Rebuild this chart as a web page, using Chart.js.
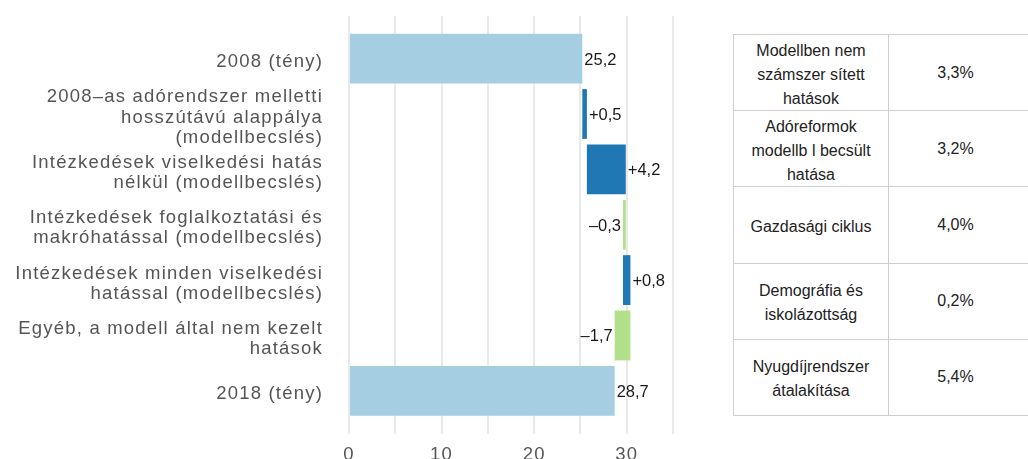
<!DOCTYPE html>
<html><head><meta charset="utf-8">
<script src="https://cdn.jsdelivr.net/npm/chart.js@4.4.1/dist/chart.umd.min.js"></script>
<style>
html,body{margin:0;padding:0;width:1028px;height:459px;overflow:hidden;background:#fff;font-family:'Liberation Sans',Arial,sans-serif;}
#wrap{position:absolute;left:0;top:0;width:690px;height:466px;}
#tbl{position:absolute;left:733px;top:34px;width:320px;border-collapse:collapse;table-layout:fixed;font-size:16px;line-height:24px;color:#222;}
#tbl td{border:1.5px solid #cfcfcf;text-align:center;vertical-align:middle;padding:0;height:75.2px;}
#tbl td.lab span{position:relative;top:2px;}
#tbl td.val{padding-right:31px;}
</style></head>
<body>
<div id="wrap"><canvas id="c"></canvas></div>
<table id="tbl"><colgroup><col style="width:155px"><col style="width:165px"></colgroup><tbody id="tb"></tbody></table>
<script>
const categories = [
  ['2008 (tény)'],
  ['2008–as adórendszer melletti', 'hosszútávú alappálya', '(modellbecslés)'],
  ['Intézkedések viselkedési hatás', 'nélkül (modellbecslés)'],
  ['Intézkedések foglalkoztatási és', 'makróhatással (modellbecslés)'],
  ['Intézkedések minden viselkedési', 'hatással (modellbecslés)'],
  ['Egyéb, a modell által nem kezelt', 'hatások'],
  ['2018 (tény)']
];
const barValues = [25.2, 0.5, 4.2, -0.3, 0.8, -1.7, 28.7];
const barKinds = ['total', 'change', 'change', 'change', 'change', 'change', 'total'];
const xTickLabels = [0, 10, 20, 30];
const tableLabels = [
  ['Modellben nem', 'számszer sített', 'hatások'],
  ['Adóreformok', 'modellb l becsült', 'hatása'],
  ['Gazdasági ciklus'],
  ['Demográfia és', 'iskolázottság'],
  ['Nyugdíjrendszer', 'átalakítása']
];
const tableValues = [3.3, 3.2, 4.0, 0.2, 5.4];

const FAMILY = "'Liberation Sans', Arial, sans-serif";
const COLORS = {total: '#a6cee3', pos: '#1f78b4', neg: '#b2df8a'};
const fmt = v => v.toFixed(1).replace('.', ',');

// table
const tb = document.getElementById('tb');
tableLabels.forEach((lines, i) => {
  const tr = document.createElement('tr');
  const a = document.createElement('td'); a.className = 'lab';
  const sp = document.createElement('span');
  lines.forEach((l, j) => { if (j) sp.appendChild(document.createElement('br')); sp.appendChild(document.createTextNode(l)); });
  a.appendChild(sp);
  const b = document.createElement('td'); b.className = 'val';
  b.textContent = fmt(tableValues[i]) + '%';
  tr.appendChild(a); tr.appendChild(b); tb.appendChild(tr);
});

// waterfall ranges
let running = 0;
const ranges = barValues.map((v, i) => {
  if (barKinds[i] === 'total') { running = v; return [0, v]; }
  const r = [running, running + v]; running += v; return r;
});
const colors = barValues.map((v, i) => barKinds[i] === 'total' ? COLORS.total : (v >= 0 ? COLORS.pos : COLORS.neg));

const labelPlugin = {
  id: 'barLabels',
  afterDatasetsDraw(chart) {
    const ctx = chart.ctx;
    const meta = chart.getDatasetMeta(0);
    ctx.save();
    try { ctx.letterSpacing = '0px'; } catch (e) {}
    ctx.font = '16.5px ' + FAMILY;
    ctx.fillStyle = '#1a1a1a';
    ctx.textBaseline = 'middle';
    meta.data.forEach((el, i) => {
      const v = barValues[i];
      const lo = Math.min(el.x, el.base), hi = Math.max(el.x, el.base);
      let txt = fmt(Math.abs(v));
      if (barKinds[i] === 'change') txt = (v < 0 ? '–' : '+') + txt;
      if (v < 0) { ctx.textAlign = 'right'; ctx.fillText(txt, lo - 2, el.y + 1.5); }
      else { ctx.textAlign = 'left'; ctx.fillText(txt, hi + 2, el.y + 1.5); }
    });
    ctx.restore();
  }
};
const spacingPlugin = {
  id: 'spacing',
  beforeDraw(chart) { try { chart.ctx.letterSpacing = '1.2px'; } catch (e) {} },
  beforeDatasetsDraw(chart) { try { chart.ctx.letterSpacing = '0px'; } catch (e) {} }
};
const noPad = s => { s.paddingTop = 0; s.paddingBottom = 0; s.paddingLeft = 0; s.paddingRight = 0; };

new Chart(document.getElementById('c'), {
  type: 'bar',
  data: {
    datasets: [{
      data: ranges.map((r, i) => ({y: i, x: r})),
      backgroundColor: colors,
      borderWidth: 0,
      borderSkipped: false,
      barPercentage: 0.9,
      categoryPercentage: 1.0
    }]
  },
  options: {
    indexAxis: 'y',
    responsive: true,
    maintainAspectRatio: false,
    animation: false,
    layout: {autoPadding: false, padding: {top: 16, right: 17, left: 0, bottom: 0}},
    plugins: {legend: {display: false}, tooltip: {enabled: false}},
    scales: {
      x: {
        type: 'linear', position: 'bottom', min: 0, max: 35, offset: false,
        ticks: {stepSize: 5, autoSkip: false, maxRotation: 0, padding: 10, color: '#555',
          font: {size: 18.5, family: FAMILY},
          callback: v => xTickLabels.includes(v) ? String(v) : ''},
        grid: {color: '#e9e9e9', lineWidth: 2, drawTicks: false, offset: false},
        border: {display: false},
        afterFit: s => { s.height = 32; noPad(s); }
      },
      y: {
        type: 'linear', reverse: true, min: -0.77, max: 6.78, offset: false,
        afterBuildTicks: s => { s.ticks = categories.map((_, i) => ({value: i})); },
        ticks: {autoSkip: false, padding: 26, labelOffset: 3.5, color: '#555',
          font: {size: 18.5, family: FAMILY, lineHeight: 1.1},
          callback: v => categories[v] || ''},
        grid: {display: false, drawTicks: false, offset: false},
        border: {display: false},
        afterFit: s => { s.width = 349; noPad(s); }
      }
    }
  },
  plugins: [labelPlugin, spacingPlugin]
});
</script>
</body></html>
